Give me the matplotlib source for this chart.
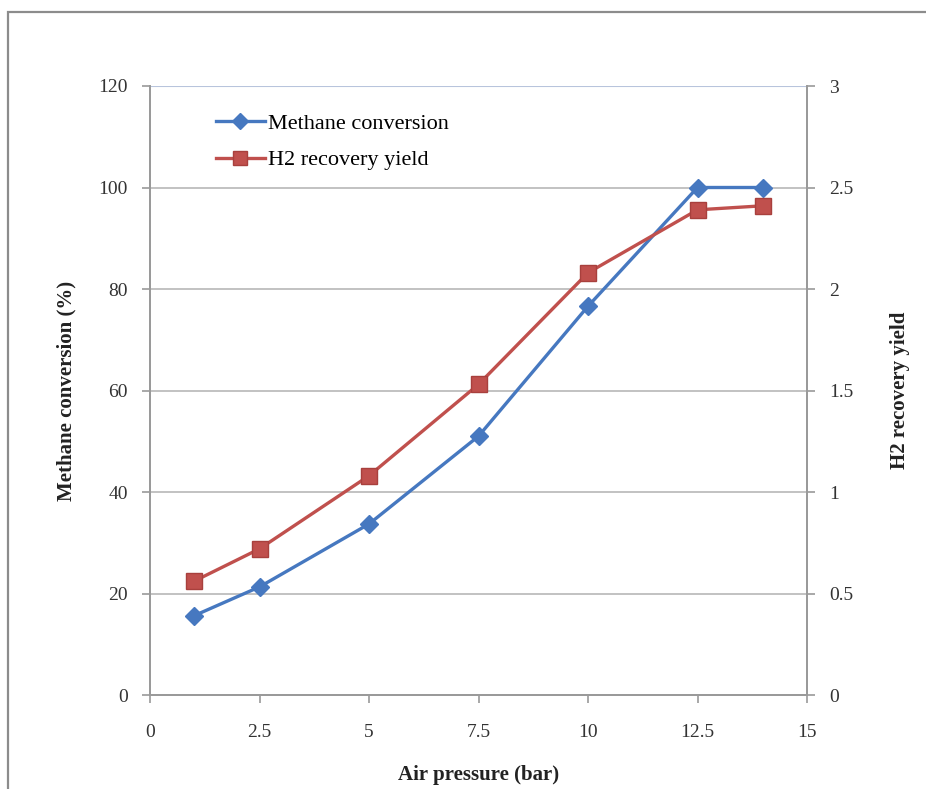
import matplotlib
matplotlib.use("Agg")
import matplotlib.pyplot as plt
from matplotlib.patches import Rectangle
from matplotlib.lines import Line2D

# Data
air_pressure = [1, 2.5, 5, 7.5, 10, 12.5, 14]
methane_conversion = [15.6, 21.3, 33.7, 51.0, 76.6, 100.0, 100.0]
h2_recovery_yield = [0.56, 0.72, 1.08, 1.53, 2.08, 2.39, 2.41]

x_ticks = [0, 2.5, 5, 7.5, 10, 12.5, 15]
x_tick_labels = ["0", "2.5", "5", "7.5", "10", "12.5", "15"]
left_ticks = [0, 20, 40, 60, 80, 100, 120]
right_ticks = [0, 0.5, 1, 1.5, 2, 2.5, 3]
right_tick_labels = ["0", "0.5", "1", "1.5", "2", "2.5", "3"]

plt.rcParams["font.family"] = ["Liberation Serif", "DejaVu Serif"]

W, H = 926, 789
fig = plt.figure(figsize=(W / 100, H / 100), dpi=100)
fig.patch.set_facecolor("white")

# Chart-area frame
fig.patches.append(Rectangle((8 / W, -0.05), 1.2, 1 - 12 / H + 0.05,
                             transform=fig.transFigure, fill=False,
                             edgecolor="#8c8c8c", linewidth=1.6))

ax = fig.add_axes([150 / W, 1 - 695 / H, (807 - 150) / W, (695 - 86) / H])
ax2 = ax.twinx()

blue = "#4678c0"
red = "#c0504d"
grid_c = "#bdbdbd"
axis_c = "#9a9a9a"

ax.set_xlim(0, 15)
ax.set_ylim(0, 120)
ax2.set_ylim(0, 3)

for y in left_ticks[1:-1]:
    ax.axhline(y, color=grid_c, linewidth=1.3, zorder=0)
ax.axhline(120, color="#b8c4dc", linewidth=1.5, zorder=0)

ax.plot(air_pressure, methane_conversion, color=blue, linewidth=2.4,
        marker="D", markersize=9, markerfacecolor=blue, markeredgecolor=blue,
        zorder=3)
ax2.plot(air_pressure, h2_recovery_yield, color=red, linewidth=2.4,
         marker="s", markersize=11, markerfacecolor=red,
         markeredgecolor="#a8403d", zorder=3)

ax.set_xticks(x_ticks)
ax.set_xticklabels(x_tick_labels)
ax.set_yticks(left_ticks)
ax2.set_yticks(right_ticks)
ax2.set_yticklabels(right_tick_labels)

for a in (ax, ax2):
    for s in a.spines.values():
        s.set_color(axis_c)
        s.set_linewidth(1.3)
    a.spines["top"].set_visible(False)
    a.tick_params(axis="both", direction="out", length=6, width=1.2,
                  color=axis_c, labelsize=14, labelcolor="#333333", pad=10)
ax.tick_params(axis="x", pad=15)

ax.set_xlabel("Air pressure (bar)", fontsize=15, fontweight="bold",
              labelpad=17, color="#222222")
ax.set_ylabel("Methane conversion (%)", fontsize=15, fontweight="bold",
              labelpad=16, color="#222222")
ax2.set_ylabel("H2 recovery yield", fontsize=15, fontweight="bold",
               labelpad=26, color="#222222")

handles = [
    Line2D([], [], color=blue, linewidth=2.4, marker="D", markersize=8,
           markerfacecolor=blue, markeredgecolor=blue),
    Line2D([], [], color=red, linewidth=2.4, marker="s", markersize=10,
           markerfacecolor=red, markeredgecolor="#a8403d"),
]
ax2.legend(handles, ["Methane conversion", "H2 recovery yield"],
           loc="upper left", bbox_to_anchor=(0.07, 0.988), frameon=False,
           fontsize=16, handlelength=2.2, handletextpad=0.15,
           labelspacing=0.72)

fig.savefig("out.png", dpi=100, facecolor="white")
